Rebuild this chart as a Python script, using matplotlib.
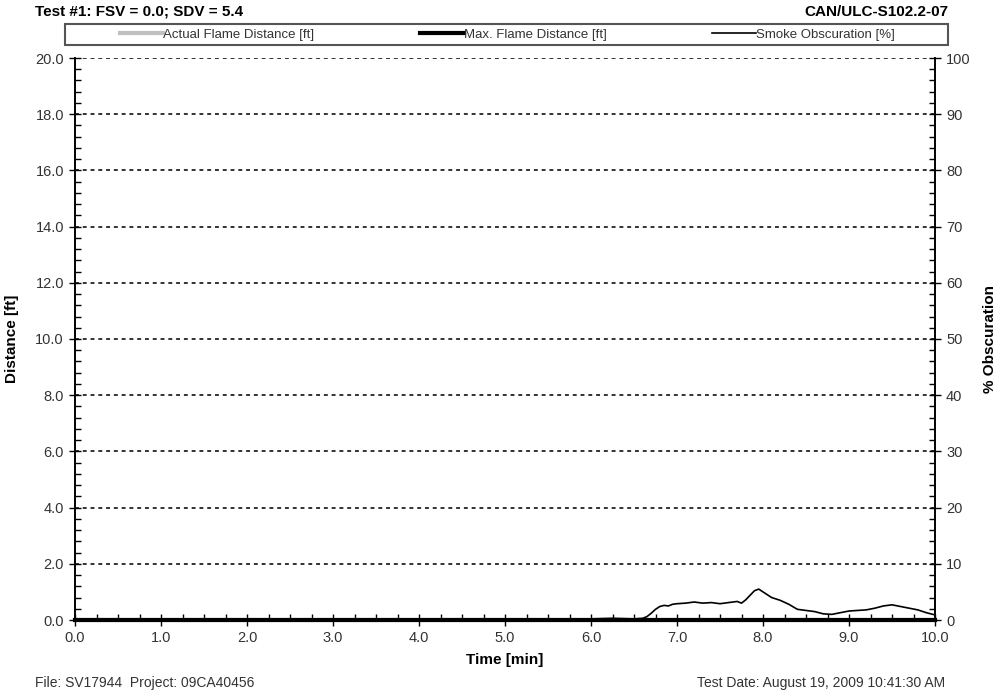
import numpy as np
import matplotlib.pyplot as plt
from matplotlib.ticker import MultipleLocator, FormatStrFormatter
from matplotlib.lines import Line2D
from matplotlib.patches import Rectangle

plt.rcParams['font.family'] = ['Liberation Sans', 'DejaVu Sans']

# smoke obscuration [%] vs time [min]
time_min = [0.0, 0.25, 0.5, 0.75, 1.0, 1.25, 1.5, 1.75, 2.0, 2.25, 2.5, 2.75, 3.0,
            3.25, 3.5, 3.75, 4.0, 4.25, 4.5, 4.75, 5.0, 5.25, 5.5, 5.75, 6.0, 6.25,
            6.5, 6.6, 6.65, 6.7, 6.75, 6.8, 6.85, 6.9, 6.95, 7.0, 7.1, 7.2, 7.3,
            7.4, 7.5, 7.6, 7.7, 7.75, 7.8, 7.85, 7.9, 7.95, 8.0, 8.05, 8.1, 8.2,
            8.3, 8.4, 8.5, 8.6, 8.7, 8.8, 8.9, 9.0, 9.1, 9.2, 9.3, 9.4, 9.5, 9.6,
            9.7, 9.8, 9.9, 10.0]
smoke_pct = [0.1, 0.0, 0.1, 0.0, 0.1, 0.0, 0.1, 0.0, 0.1, 0.0, 0.1, 0.1, 0.0,
             0.1, 0.0, 0.1, 0.0, 0.1, 0.1, 0.0, 0.2, 0.1, 0.2, 0.1, 0.2, 0.3,
             0.2, 0.3, 0.6, 1.2, 1.9, 2.4, 2.6, 2.5, 2.8, 2.9, 3.0, 3.2, 3.0,
             3.1, 2.9, 3.1, 3.3, 3.0, 3.6, 4.4, 5.2, 5.5, 5.0, 4.5, 4.0, 3.5,
             2.8, 1.9, 1.7, 1.5, 1.1, 1.0, 1.3, 1.6, 1.7, 1.8, 2.1, 2.5, 2.7, 2.4,
             2.1, 1.8, 1.3, 0.9]

# flame distance [ft] - stays at zero for the whole test
flame_time = [0.0, 10.0]
actual_flame = [0.0, 0.0]
max_flame = [0.0, 0.0]

fig = plt.figure(figsize=(10.03, 7.0), dpi=100)
ax = fig.add_axes([75 / 1003, 80 / 700, 860 / 1003, 562 / 700])
ax2 = ax.twinx()

ax.plot(flame_time, actual_flame, color='#c0c0c0', lw=3, zorder=3, clip_on=False)
ax.plot(flame_time, max_flame, color='black', lw=3, zorder=4, clip_on=False)
ax2.plot(time_min, smoke_pct, color='black', lw=1.2)

ax.set_xlim(0, 10)
ax.set_ylim(0, 20)
ax2.set_ylim(0, 100)

ax.xaxis.set_major_locator(MultipleLocator(1))
ax.xaxis.set_minor_locator(MultipleLocator(0.25))
ax.yaxis.set_major_locator(MultipleLocator(2))
ax.yaxis.set_minor_locator(MultipleLocator(0.4))
ax2.yaxis.set_major_locator(MultipleLocator(10))
ax2.yaxis.set_minor_locator(MultipleLocator(2))
ax.xaxis.set_major_formatter(FormatStrFormatter('%.1f'))
ax.yaxis.set_major_formatter(FormatStrFormatter('%.1f'))

ax.tick_params(which='major', direction='inout', length=8, width=1, labelsize=10.5,
               colors='black', labelcolor='#333333', pad=4)
ax.tick_params(which='minor', direction='in', length=4, width=1)
ax2.tick_params(which='major', direction='inout', length=8, width=1, labelsize=10.5,
                labelcolor='#333333', pad=4)
ax2.tick_params(which='minor', direction='in', length=4, width=1)

ax.grid(axis='y', which='major', color='#333333', linestyle=(0, (2, 2)), lw=1.4)
for a in (ax, ax2):
    for s in a.spines.values():
        s.set_linewidth(1.2)
    a.spines['top'].set_visible(False)

ax.set_xlabel('Time [min]', fontsize=11, fontweight='bold', labelpad=6)
ax.set_ylabel('Distance [ft]', fontsize=11, fontweight='bold', labelpad=12)
ax2.set_ylabel('% Obscuration', fontsize=11, fontweight='bold', labelpad=9)

# header and footer
fig.text(35 / 1003, 1 - 12 / 700, 'Test #1: FSV = 0.0; SDV = 5.4', fontsize=11,
         fontweight='bold', va='center', ha='left')
fig.text(948 / 1003, 1 - 12 / 700, 'CAN/ULC-S102.2-07', fontsize=11,
         fontweight='bold', va='center', ha='right')
fig.text(35 / 1003, 1 - 683 / 700, 'File: SV17944  Project: 09CA40456', fontsize=10,
         va='center', ha='left', color='#333333')
fig.text(945 / 1003, 1 - 683 / 700, 'Test Date: August 19, 2009 10:41:30 AM', fontsize=10,
         va='center', ha='right', color='#333333')

# legend box
fig.patches.append(Rectangle((65 / 1003, 1 - 45 / 700), 883 / 1003, 21 / 700,
                             transform=fig.transFigure, facecolor='white',
                             edgecolor='#555555', lw=1.5))
handles = [Line2D([], [], color='#c0c0c0', lw=3),
           Line2D([], [], color='black', lw=3),
           Line2D([], [], color='black', lw=1.2)]
labels = ['Actual Flame Distance [ft]', 'Max. Flame Distance [ft]', 'Smoke Obscuration [%]']
fig.legend(handles, labels, loc='center left', ncol=3, frameon=False,
           bbox_to_anchor=(108 / 1003, 1 - 34.5 / 700), fontsize=9.5,
           handlelength=3.3, handletextpad=0.0, columnspacing=8.0,
           labelcolor='#333333')

fig.savefig('out.png', dpi=100)
